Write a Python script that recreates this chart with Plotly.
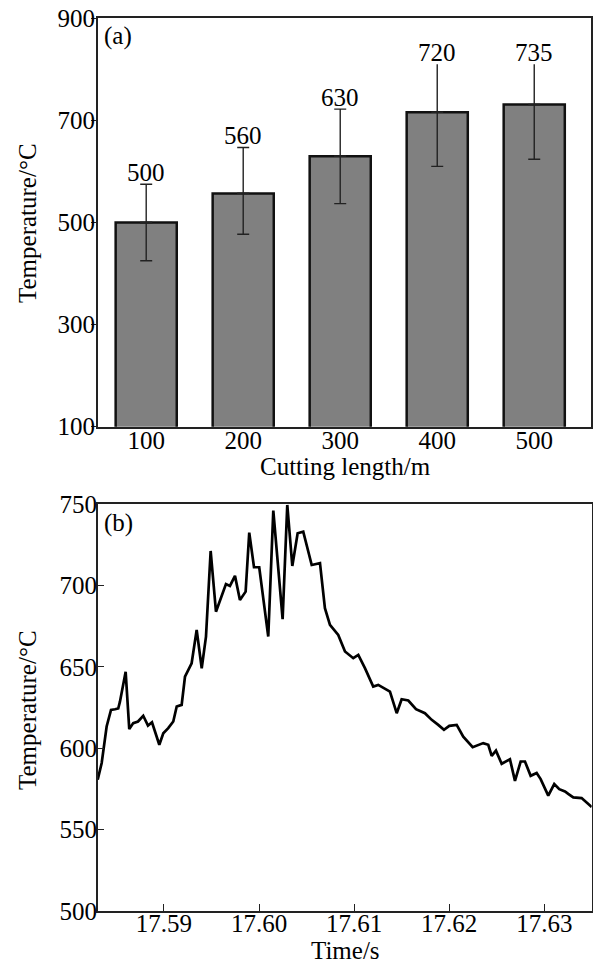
import plotly.graph_objects as go

# ---------------- data: panel (a) ----------------
cut_len_labels = ["100", "200", "300", "400", "500"]
bar_temps = [500, 557, 630, 716, 731]
err_plus = [75, 90, 92, 94, 79]
err_minus = [75, 80, 93, 106, 107]
bar_text = ["500", "560", "630", "720", "735"]

# ---------------- data: panel (b) ----------------
time_s = [17.58303, 17.58345, 17.58397, 17.58443, 17.58485, 17.58519, 17.58537, 17.58597,
          17.58635, 17.58677, 17.58727, 17.58782, 17.58832, 17.58874, 17.58951, 17.58993,
          17.59045, 17.59098, 17.59134, 17.59186, 17.59221, 17.59291, 17.59344, 17.59397,
          17.59442, 17.59491, 17.59547, 17.59607, 17.59652, 17.59694, 17.59747, 17.59799,
          17.59859, 17.59897, 17.59947, 17.60002, 17.60097, 17.60150, 17.60248, 17.60297,
          17.60350, 17.60406, 17.60465, 17.60554, 17.60641, 17.60693, 17.60746, 17.60833,
          17.60904, 17.60991, 17.61044, 17.61114, 17.61201, 17.61254, 17.61377, 17.61448,
          17.61500, 17.61570, 17.61651, 17.61745, 17.61816, 17.61885, 17.61945, 17.62001,
          17.62079, 17.62148, 17.62247, 17.62358, 17.62411, 17.62447, 17.62492, 17.62552,
          17.62639, 17.62692, 17.62752, 17.62797, 17.62857, 17.62920, 17.62962, 17.63042,
          17.63105, 17.63158, 17.63218, 17.63252, 17.63305, 17.63393, 17.63499]
temp_c = [580.7, 591.0, 613.4, 623.6, 624.0, 624.5, 628.7, 647.0,
          611.8, 615.5, 616.5, 620.0, 614.0, 616.0, 602.2, 609.3,
          612.4, 616.5, 625.7, 626.7, 644.0, 652.3, 672.8, 649.2,
          668.7, 721.3, 684.0, 693.3, 701.0, 699.8, 706.0, 691.2,
          696.3, 732.6, 711.3, 711.3, 668.7, 746.1, 679.4, 749.6,
          712.1, 732.2, 733.2, 712.7, 713.8, 686.1, 675.9, 669.7,
          659.5, 655.4, 657.4, 649.3, 638.0, 639.0, 634.9, 621.6,
          630.2, 629.4, 624.1, 621.6, 617.5, 614.4, 611.4, 613.8,
          614.4, 607.2, 600.7, 603.2, 602.2, 595.4, 598.6, 590.5,
          593.3, 580.0, 591.9, 591.9, 583.1, 584.8, 581.1, 570.9,
          578.0, 574.9, 573.5, 572.0, 569.8, 569.4, 563.9]

a_yticks = [100, 300, 500, 700, 900]
b_yticks = [500, 550, 600, 650, 700, 750]
b_xticks = [17.59, 17.60, 17.61, 17.62, 17.63]

W, H = 593, 965
FONT = "Liberation Serif"
FS = 25
AX = "#222222"


def px(x):
    return x / W


def py(y):
    return 1 - y / H


xpos = list(range(len(cut_len_labels)))

fig = go.Figure()

fig.add_trace(go.Bar(
    x=xpos, y=bar_temps, base=0, width=0.63,
    marker=dict(color="#808080", line=dict(color="#111111", width=2.5)),
    xaxis="x", yaxis="y", showlegend=False,
))

# lower error bars (all bars)
fig.add_trace(go.Scatter(
    x=xpos, y=bar_temps, mode="markers", marker=dict(size=0.1, color="rgba(0,0,0,0)"),
    error_y=dict(type="data", symmetric=False, array=[0] * 5, arrayminus=err_minus,
                 width=6, thickness=1.4, color="#222222"),
    xaxis="x", yaxis="y", showlegend=False, hoverinfo="skip",
))
# upper error bars, capped (first three)
fig.add_trace(go.Scatter(
    x=xpos[:3], y=bar_temps[:3], mode="markers", marker=dict(size=0.1, color="rgba(0,0,0,0)"),
    error_y=dict(type="data", symmetric=False, array=err_plus[:3], arrayminus=[0] * 3,
                 width=6, thickness=1.4, color="#222222"),
    xaxis="x", yaxis="y", showlegend=False, hoverinfo="skip",
))
# upper error bars, open (last two)
fig.add_trace(go.Scatter(
    x=xpos[3:], y=bar_temps[3:], mode="markers", marker=dict(size=0.1, color="rgba(0,0,0,0)"),
    error_y=dict(type="data", symmetric=False, array=err_plus[3:], arrayminus=[0] * 2,
                 width=0, thickness=1.4, color="#222222"),
    xaxis="x", yaxis="y", showlegend=False, hoverinfo="skip",
))

fig.add_trace(go.Scatter(
    x=time_s, y=temp_c, mode="lines", line=dict(color="#000000", width=2.7),
    xaxis="x2", yaxis="y2", showlegend=False,
))

annotations = []
for i, t in enumerate(bar_text):
    annotations.append(dict(
        x=xpos[i], y=bar_temps[i] + err_plus[i], xref="x", yref="y",
        text=t, showarrow=False, xanchor="center", yanchor="bottom",
        yshift=-4, font=dict(family=FONT, size=FS, color="#000"),
    ))

annotations += [
    dict(x=px(102), y=py(36), xref="paper", yref="paper", text="(a)", showarrow=False,
         xanchor="left", yanchor="middle", font=dict(family=FONT, size=FS, color="#000")),
    dict(x=px(102), y=py(523), xref="paper", yref="paper", text="(b)", showarrow=False,
         xanchor="left", yanchor="middle", font=dict(family=FONT, size=FS, color="#000")),
    dict(x=px(27), y=py(223), xref="paper", yref="paper", text="Temperature/°C", showarrow=False,
         textangle=-90, xanchor="center", yanchor="middle",
         font=dict(family=FONT, size=FS, color="#000")),
    dict(x=px(27), y=py(710), xref="paper", yref="paper", text="Temperature/°C", showarrow=False,
         textangle=-90, xanchor="center", yanchor="middle",
         font=dict(family=FONT, size=FS, color="#000")),
    dict(x=px(345), y=py(466), xref="paper", yref="paper", text="Cutting length/m", showarrow=False,
         xanchor="center", yanchor="middle", font=dict(family=FONT, size=FS, color="#000")),
    dict(x=px(345), y=py(950), xref="paper", yref="paper", text="Time/s", showarrow=False,
         xanchor="center", yanchor="middle", font=dict(family=FONT, size=FS, color="#000")),
]

axis_common = dict(showgrid=False, zeroline=False, showline=True, mirror=True,
                   automargin=False,
                   linecolor=AX, linewidth=1.5, tickcolor=AX, tickwidth=1.3,
                   tickfont=dict(family=FONT, size=FS, color="#000"))

fig.update_layout(
    width=W, height=H, margin=dict(l=0, r=0, t=0, b=0, autoexpand=False),
    paper_bgcolor="white", plot_bgcolor="white",
    xaxis=dict(domain=[px(97.7), px(590.7)], anchor="y", range=[-0.5, 4.582],
               tickvals=xpos, ticktext=cut_len_labels, ticks="", ticklabelstandoff=-9,
               **axis_common),
    yaxis=dict(domain=[py(426.7), py(18.3)], anchor="x", range=[100, 900],
               tickvals=a_yticks, ticks="outside", ticklen=5, ticklabelstandoff=-9,
               **axis_common),
    xaxis2=dict(domain=[px(97.7), px(591.7)], anchor="y2", range=[17.58303, 17.63499],
                tickvals=b_xticks, tickformat=".2f", ticks="inside", ticklen=7,
                ticklabelstandoff=-11, **axis_common),
    yaxis2=dict(domain=[py(911), py(504.3)], anchor="x2", range=[500, 750],
                tickvals=b_yticks, ticks="inside", ticklen=7, ticklabelstandoff=-6,
                **axis_common),
    annotations=annotations,
)

fig.write_html("out.html")
